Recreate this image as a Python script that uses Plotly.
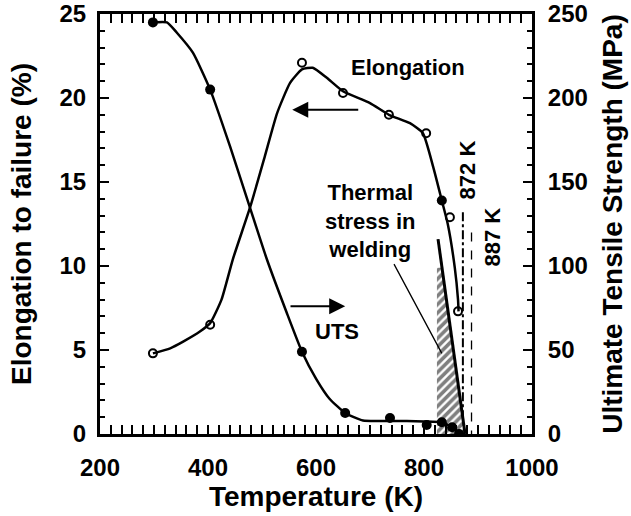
import plotly.graph_objects as go

# ---------------- data ----------------
# Elongation curve (smooth line), T in K, elongation in %
elong_curve_T = [298, 330, 354, 385, 404, 425, 446, 478, 505, 528, 552, 574, 594, 620, 650, 700, 735, 774, 798, 817, 833, 844, 857, 863, 864]
elong_curve_E = [4.8, 5.1, 5.5, 6.1, 6.6, 8.0, 10.4, 13.5, 16.5, 19.1, 20.9, 21.7, 21.8, 21.2, 20.4, 19.7, 19.0, 18.5, 17.9, 15.9, 13.9, 12.5, 9.9, 8.0, 7.3]
# Elongation data points (open circles)
elong_pts_T = [298, 404, 574, 650, 735, 804, 848, 863]
elong_pts_E = [4.8, 6.5, 22.1, 20.3, 19.0, 17.9, 12.9, 7.3]
# one filled point on the elongation curve
elong_fill_T = [833]
elong_fill_E = [13.9]

# UTS curve (smooth line), MPa
uts_curve_T = [298, 324, 342, 372, 404, 441, 478, 509, 546, 574, 600, 625, 654, 687, 737, 800, 833, 852, 865]
uts_curve_S = [245, 245, 239, 227, 205, 171, 134.5, 104, 72, 49, 33, 21, 12.5, 8.0, 7.8, 7.5, 7.0, 4.0, 0]
# UTS data points (filled circles)
uts_pts_T = [298, 404, 574, 654, 737, 805, 833, 852, 865]
uts_pts_S = [245, 205, 49, 12.5, 9.5, 5.4, 7.0, 4.0, 0]

# Thermal stress in welding: line and hatched region (MPa)
thermal_T = [826, 876]
thermal_S = [116, 0]
hatch_T = [824, 833, 876, 824, 824]
hatch_S = [99, 99, 0, 0, 99]

# reference temperatures
T_872 = 872
T_887 = 888
line_872_top = 13.2   # % (left axis)
line_887_top = 12.0

x_ticks = [200, 300, 400, 500, 600, 700, 800, 900, 1000]
x_ticktext = ['200', '', '400', '', '600', '', '800', '', '1000']
y_ticks = [0, 5, 10, 15, 20, 25]
y2_ticks = [0, 50, 100, 150, 200, 250]

FONT = "Liberation Sans, Arial, sans-serif"
BLK = "black"

fig = go.Figure()

# hatched region
fig.add_trace(go.Scatter(x=hatch_T, y=hatch_S, yaxis="y2", mode="lines",
                         fill="toself", fillcolor="white",
                         fillpattern=dict(shape="/", fgcolor=BLK, bgcolor="white", size=6, solidity=0.6),
                         line=dict(width=0), hoverinfo="skip", showlegend=False))
# thermal stress line
fig.add_trace(go.Scatter(x=thermal_T, y=thermal_S, yaxis="y2", mode="lines",
                         line=dict(color=BLK, width=3), showlegend=False))

# reference lines
fig.add_trace(go.Scatter(x=[T_872, T_872], y=[line_872_top, 0], mode="lines",
                         line=dict(color=BLK, width=2, dash="dashdot"), showlegend=False))
fig.add_trace(go.Scatter(x=[T_887, T_887], y=[line_887_top, 0], mode="lines",
                         line=dict(color=BLK, width=1.3, dash="dash"), showlegend=False))

# elongation
fig.add_trace(go.Scatter(x=elong_curve_T, y=elong_curve_E, mode="lines", line_shape="spline",
                         line=dict(color=BLK, width=2.5, smoothing=0.5), showlegend=False))
fig.add_trace(go.Scatter(x=elong_pts_T, y=elong_pts_E, mode="markers",
                         marker=dict(symbol="circle-open", size=8, color=BLK, line=dict(width=2)),
                         showlegend=False))
fig.add_trace(go.Scatter(x=elong_fill_T, y=elong_fill_E, mode="markers",
                         marker=dict(symbol="circle", size=10, color=BLK), showlegend=False))

# UTS
fig.add_trace(go.Scatter(x=uts_curve_T, y=uts_curve_S, yaxis="y2", mode="lines", line_shape="spline",
                         line=dict(color=BLK, width=2.5, smoothing=0.5), showlegend=False))
fig.add_trace(go.Scatter(x=uts_pts_T, y=uts_pts_S, yaxis="y2", mode="markers",
                         marker=dict(symbol="circle", size=10, color=BLK), showlegend=False))

ann_font = dict(family=FONT, size=22, color=BLK)
annotations = [
    dict(x=770, y=21.8, text="<b>Elongation</b>", showarrow=False, font=ann_font),
    dict(x=700, y=12.7, text="<b>Thermal<br>stress in<br>welding</b>", showarrow=False, font=ann_font,
         align="center"),
    dict(x=639, y=6.1, text="<b>UTS</b>", showarrow=False, font=ann_font),
    dict(x=880, y=15.7, text="<b>872 K</b>", showarrow=False, textangle=-90, font=ann_font),
    dict(x=926, y=11.7, text="<b>887 K</b>", showarrow=False, textangle=-90, font=ann_font),
    # arrows
    dict(x=556, y=19.3, ax=681, ay=19.3, axref="x", ayref="y", xref="x", yref="y", text="",
         showarrow=True, arrowhead=2, arrowsize=1.6, arrowwidth=2, arrowcolor=BLK),
    dict(x=654, y=7.6, ax=550, ay=7.6, axref="x", ayref="y", xref="x", yref="y", text="",
         showarrow=True, arrowhead=2, arrowsize=1.6, arrowwidth=2, arrowcolor=BLK),
    # pointer from text to hatch
    dict(x=833, y=4.8, ax=743, ay=10.2, axref="x", ayref="y", xref="x", yref="y", text="",
         showarrow=True, arrowhead=0, arrowwidth=1.3, arrowcolor=BLK),
]

axis_common = dict(showline=True, linecolor=BLK, linewidth=3, ticks="inside", tickcolor=BLK,
                   tickwidth=2, ticklen=9, showgrid=False, zeroline=False, automargin=False,
                   tickfont=dict(family=FONT, size=24, color=BLK))
title_font = dict(family=FONT, size=28, color=BLK)

fig.update_layout(
    width=631, height=516,
    margin=dict(l=100, r=99, t=14, b=82),
    paper_bgcolor="white", plot_bgcolor="white",
    font=dict(family=FONT, color=BLK),
    xaxis=dict(range=[200, 1000], tickvals=x_ticks,
               ticktext=[f"<b>{t}</b>" if t else "" for t in x_ticktext], mirror="allticks",
               minor=dict(dtick=20, ticks="inside", ticklen=5, tickwidth=1.5, tickcolor=BLK),
               ticklabelstandoff=10,
               title=dict(text="<b>Temperature (K)</b>", font=title_font, standoff=4),
               **axis_common),
    yaxis=dict(range=[0, 25], tickvals=y_ticks, ticktext=[f"<b>{v}</b>" for v in y_ticks],
               minor=dict(dtick=1, ticks="inside", ticklen=5, tickwidth=1.5, tickcolor=BLK),
               ticklabelstandoff=6,
               title=dict(text="<b>Elongation to failure (%)</b>", font=title_font, standoff=20),
               **axis_common),
    yaxis2=dict(range=[0, 250], tickvals=y2_ticks, ticktext=[f"<b>{v}</b>" for v in y2_ticks],
                overlaying="y", side="right",
                minor=dict(dtick=10, ticks="inside", ticklen=5, tickwidth=1.5, tickcolor=BLK),
                ticklabelstandoff=8,
                title=dict(text="<b>Ultimate Tensile Strength (MPa)</b>", font=title_font, standoff=16),
                **axis_common),
    annotations=annotations,
)

fig.write_html("out.html", config={"displayModeBar": False},
               post_script="document.body.style.margin='0';document.body.style.overflow='hidden';")
